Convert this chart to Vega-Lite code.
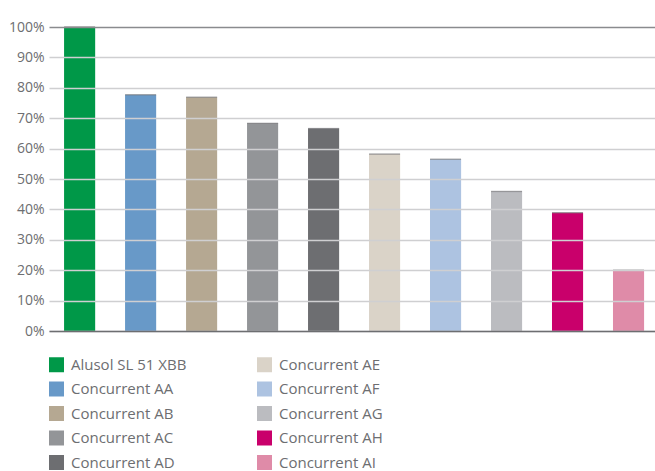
{
  "$schema": "https://vega.github.io/schema/vega-lite/v6.json",
  "autosize": "none",
  "padding": {"left": 49, "top": 27, "right": 0, "bottom": 140},
  "width": 606,
  "height": 304,
  "background": "white",
  "config": {
    "view": {"stroke": null},
    "font": "Open Sans",
    "axis": {"labelFont": "Open Sans", "labelColor": "#6d6e71"},
    "legend": {"labelFont": "Open Sans", "labelColor": "#6d6e71"}
  },
  "data": {
    "values": [
      {"product": "Alusol SL 51 XBB", "value": 1.0},
      {"product": "Concurrent AA", "value": 0.777},
      {"product": "Concurrent AB", "value": 0.769},
      {"product": "Concurrent AC", "value": 0.683},
      {"product": "Concurrent AD", "value": 0.666},
      {"product": "Concurrent AE", "value": 0.582},
      {"product": "Concurrent AF", "value": 0.565},
      {"product": "Concurrent AG", "value": 0.459},
      {"product": "Concurrent AH", "value": 0.389},
      {"product": "Concurrent AI", "value": 0.2}
    ]
  },
  "encoding": {
    "x": {
      "field": "product",
      "type": "nominal",
      "sort": ["Alusol SL 51 XBB", "Concurrent AA", "Concurrent AB", "Concurrent AC", "Concurrent AD", "Concurrent AE", "Concurrent AF", "Concurrent AG", "Concurrent AH", "Concurrent AI"],
      "scale": {"paddingInner": 0.49, "paddingOuter": 0.213, "align": 0.58},
      "axis": {"labels": false, "ticks": false, "title": null, "grid": false, "domainColor": "#6d6e71", "domainWidth": 1.6, "zindex": 2}
    },
    "y": {
      "field": "value",
      "type": "quantitative",
      "scale": {"domain": [0, 1], "nice": false},
      "axis": {
        "values": [0, 0.1, 0.2, 0.3, 0.4, 0.5, 0.6, 0.7, 0.8, 0.9, 1.0],
        "format": ".0%",
        "title": null,
        "domain": false,
        "ticks": false,
        "labelPadding": 5,
        "labelFontSize": 14,
        "grid": true,
        "gridColor": {"condition": {"test": "datum.value === 1", "value": "#8a8b8e"}, "value": "#cfcfd1"},
        "gridWidth": 1.3,
        "zindex": 1
      }
    }
  },
  "layer": [
    {
      "mark": {"type": "bar"},
      "encoding": {
        "color": {
          "field": "product",
          "type": "nominal",
          "scale": {
            "domain": ["Alusol SL 51 XBB", "Concurrent AA", "Concurrent AB", "Concurrent AC", "Concurrent AD", "Concurrent AE", "Concurrent AF", "Concurrent AG", "Concurrent AH", "Concurrent AI"],
            "range": ["#009848", "#6899c8", "#b5a892", "#939598", "#6d6e71", "#dad3c8", "#adc3e1", "#bbbcc0", "#c9006b", "#df8ba8"]
          },
          "legend": {
            "title": null,
            "orient": "none",
            "legendX": 0,
            "legendY": 330,
            "columns": 2,
            "symbolType": "square",
            "symbolSize": 225,
            "symbolStrokeWidth": 0,
            "symbolOpacity": 1,
            "labelFontSize": 15,
            "labelOffset": 7,
            "rowPadding": 8.5,
            "columnPadding": 70
          }
        }
      }
    },
    {
      "mark": {"type": "tick", "size": 31, "thickness": 1.3, "color": "#77787b"},
      "encoding": {}
    }
  ]
}
